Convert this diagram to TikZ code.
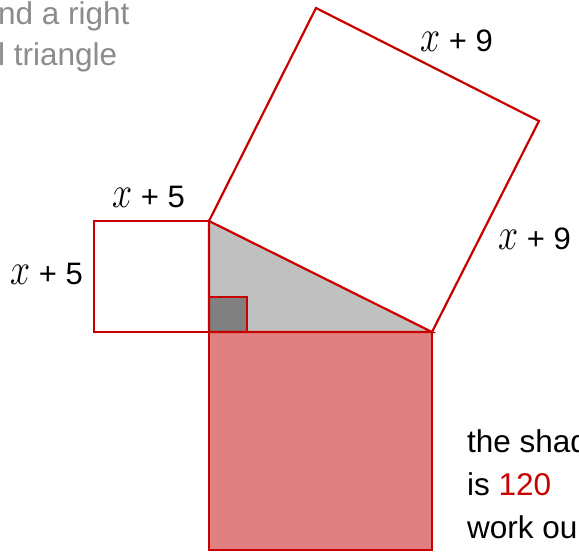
\documentclass[tikz,border=0pt]{standalone}
\usepackage{fontspec}
\usepackage{graphicx}
\usepackage{tikz}
\usepackage{xcolor}
\setmainfont{Liberation Sans}
\definecolor{edgered}{HTML}{C80000}
\definecolor{shadered}{HTML}{E08080}
\definecolor{trigray}{HTML}{C0C0C0}
\definecolor{markgray}{HTML}{808080}
\definecolor{hintgray}{HTML}{8C8C8C}
\newcommand{\xv}{\scalebox{1.45}[1.8]{$x$}}
\tikzset{
  sqline/.style={draw=edgered, line width=2.2pt, line join=miter},
  sidelabel/.style={anchor=base west, inner sep=0pt,
    font=\fontsize{31}{31}\selectfont},
  note/.style={anchor=base west, inner sep=0pt,
    font=\fontsize{31.5}{31.5}\selectfont},
  hint/.style={note, text=hintgray}
}

\begin{document}
\begin{tikzpicture}[x=1pt, y=-1pt]
    \useasboundingbox (0,0) rectangle (579,556);
    \clip (0,0) rectangle (579,556);

    % triangle corners and hypotenuse square
    \coordinate (A) at (209,332);
    \coordinate (B) at (209,221);
    \coordinate (C) at (432,332);
    \coordinate (D) at (539,121);
    \coordinate (E) at (316,8);

    \fill[shadered] (A) rectangle (432,550);
    \fill[trigray] (A) -- (B) -- (C) -- cycle;
    \filldraw[fill=markgray, sqline] (A) rectangle (247,297);

    \draw[sqline] (A) rectangle (432,550);
    \draw[sqline] (94,221) rectangle (A);
    \draw[sqline] (B) -- (E) -- (D) -- (C);
    \draw[sqline] (A) -- (B) -- (C) -- cycle;

    % side labels
    \node[sidelabel] (topnine) at (420,52) {\xv{} + 9};
    \node[sidelabel] (rightnine) at (498,250) {\xv{} + 9};
    \node[sidelabel] (topfive) at (112,208) {\xv{} + 5};
    \node[sidelabel] (leftfive) at (10,285) {\xv{} + 5};

    % text cut off at the edges
    \node[hint] (hintA) at (-2,25) {nd a right};
    \node[hint] (hintB) at (-2,66) {l triangle};
    \node[note] (noteA) at (467,453) {the shad};
    \node[note] (noteB) at (467,495) {is \textcolor{edgered}{120}};
    \node[note] (noteC) at (467,538) {work ou};
  \end{tikzpicture}
\end{document}
